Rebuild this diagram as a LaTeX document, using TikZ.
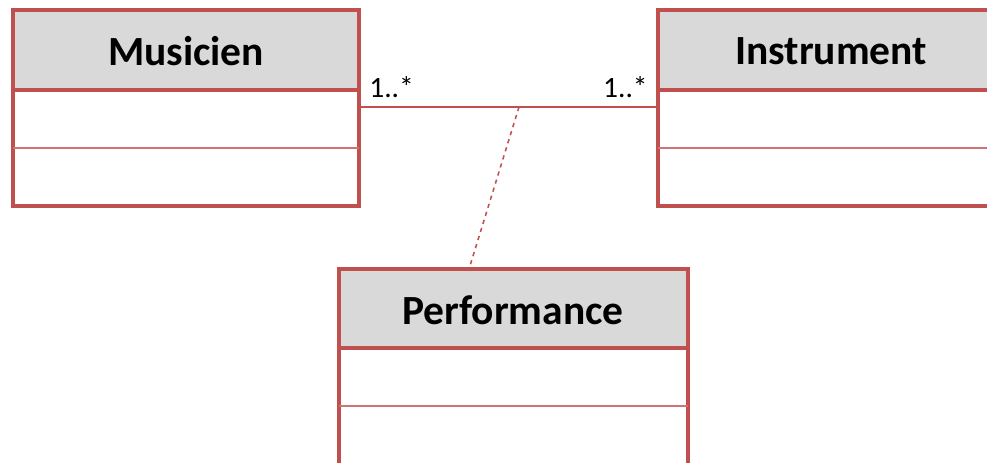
\documentclass[tikz,border=0pt]{standalone}
\usepackage{fontspec}
\setmainfont{Carlito}
\definecolor{umlred}{RGB}{192,80,77}
\definecolor{umlgray}{RGB}{217,217,217}

\begin{document}
\begin{tikzpicture}[x=0.025cm, y=-0.025cm,
    classbox/.style={draw=umlred, line width=2.6pt},
    classhead/.style={draw=umlred, fill=umlgray, line width=2.6pt},
    classline/.style={draw=umlred!80, line width=1.3pt},
    classname/.style={font=\bfseries\fontsize{29.5}{34}\selectfont, inner sep=0pt},
    mult/.style={font=\fontsize{21}{25}\selectfont, inner sep=0pt}]
  \useasboundingbox (0,0) rectangle (987,462);
  \clip (0,0) rectangle (987,462);

  % Musicien
  \draw[classbox] (13,10) rectangle (359,206);
  \draw[classhead] (13,10) rectangle (359,90);
  \draw[classline] (13,148) -- (359,148);
  \node[classname] (musicien) at (186,51) {Musicien};

  % Instrument
  \draw[classbox] (658,10) rectangle (1004,206);
  \draw[classhead] (658,10) rectangle (1004,90);
  \draw[classline] (658,148) -- (1004,148);
  \node[classname] (instrument) at (831,51) {Instrument};

  % Performance
  \draw[classbox] (339,269) rectangle (688,470);
  \draw[classhead] (339,269) rectangle (688,348);
  \draw[classline] (339,406) -- (688,406);
  \node[classname] (performance) at (513,310) {Performance};

  % association
  \coordinate (musEnd) at (359,107);
  \coordinate (insEnd) at (658,107);
  \coordinate (assocMid) at (519,107);
  \coordinate (perfTop) at (469,269);
  \draw[umlred, line width=1.1pt] (musEnd) -- (insEnd);
  \draw[umlred, line width=1.1pt, dashed] (assocMid) -- (perfTop);
  \node[mult, anchor=base west] (multMus) at (369,97) {1..*};
  \node[mult, anchor=base east] (multIns) at (648,97) {1..*};
\end{tikzpicture}
\end{document}
